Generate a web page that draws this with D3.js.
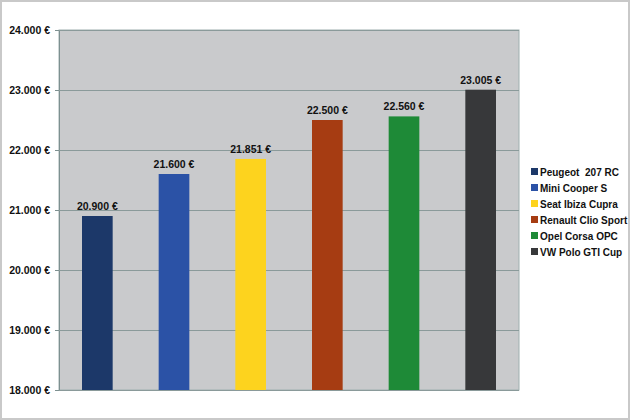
<!DOCTYPE html>
<html>
<head>
<meta charset="utf-8">
<script src="https://cdn.jsdelivr.net/npm/d3@7"></script>
<style>
  body { margin: 0; background: #fff; }
  text { font-family: "Liberation Sans", Arial, sans-serif; font-weight: bold; white-space: pre; }
</style>
</head>
<body>
<div id="chart"></div>
<script>
// data
const cars = ["Peugeot  207 RC", "Mini Cooper S", "Seat Ibiza Cupra", "Renault Clio Sport", "Opel Corsa OPC", "VW Polo GTI Cup"];
const prices = [20900, 21600, 21851, 22500, 22560, 23005];
const colors = ["#1c3869", "#2b52a6", "#fdd31e", "#a63c12", "#1e8a37", "#37383a"];
const yTicks = [18000, 19000, 20000, 21000, 22000, 23000, 24000];

const width = 630, height = 420;
const plotL = 59, plotR = 519, plotT = 30, plotB = 390;

const fmt = v => d3.format(",")(v).replace(/,/g, ".") + " €";

const svg = d3.select("#chart")
    .append("svg")
    .attr("width", width)
    .attr("height", height);

// outer frame
svg.append("rect")
    .attr("x", 1).attr("y", 1)
    .attr("width", width - 2).attr("height", height - 2)
    .attr("fill", "#fff")
    .attr("stroke", "#c9c9c9")
    .attr("stroke-width", 2);

const x = d3.scaleBand().domain(cars).range([plotL, plotR]).paddingInner(0.6).paddingOuter(0.3);
const y = d3.scaleLinear().domain([18000, 24000]).range([plotB, plotT]);

// plot background
svg.append("rect")
    .attr("x", plotL).attr("y", plotT)
    .attr("width", plotR - plotL).attr("height", plotB - plotT)
    .attr("fill", "#c9cacc")
    .attr("stroke", "#9fb0b0");

// grid + y axis
svg.append("g")
    .attr("transform", `translate(${plotL},0)`)
    .call(d3.axisLeft(y).tickValues(yTicks).tickFormat(fmt).tickSize(4).tickPadding(5))
    .call(g => g.select(".domain").attr("stroke", "#7d9090"))
    .call(g => g.selectAll(".tick line").attr("stroke", "#7d9090"))
    .call(g => g.selectAll(".tick text").attr("fill", "#111").attr("font-size", 10.5))
    .call(g => g.attr("font-family", null).attr("font-size", null))
    .call(g => g.selectAll(".tick").append("line")
        .attr("x2", plotR - plotL)
        .attr("stroke", "#8a9a9a"));

// bars
svg.selectAll("rect.bar")
    .data(prices)
    .enter().append("rect")
    .attr("class", "bar")
    .attr("x", (d, i) => x(cars[i]))
    .attr("width", x.bandwidth())
    .attr("y", d => y(d))
    .attr("height", d => y(18000) - y(d))
    .attr("fill", (d, i) => colors[i]);

// value labels
svg.selectAll("text.val")
    .data(prices)
    .enter().append("text")
    .attr("class", "val")
    .attr("x", (d, i) => x(cars[i]) + x.bandwidth() / 2)
    .attr("y", d => y(d) - 6)
    .attr("text-anchor", "middle")
    .attr("font-size", 10.5)
    .attr("fill", "#111")
    .text(fmt);

// legend
const legend = svg.append("g").attr("transform", "translate(531,172)");
const item = legend.selectAll("g")
    .data(cars)
    .enter().append("g")
    .attr("transform", (d, i) => `translate(0,${i * 16})`);
item.append("rect")
    .attr("x", 0).attr("y", -4)
    .attr("width", 7).attr("height", 7)
    .attr("fill", (d, i) => colors[i]);
item.append("text")
    .attr("x", 9)
    .attr("dy", "0.35em")
    .attr("font-size", 10)
    .attr("fill", "#111")
    .text(d => d);
</script>
</body>
</html>
